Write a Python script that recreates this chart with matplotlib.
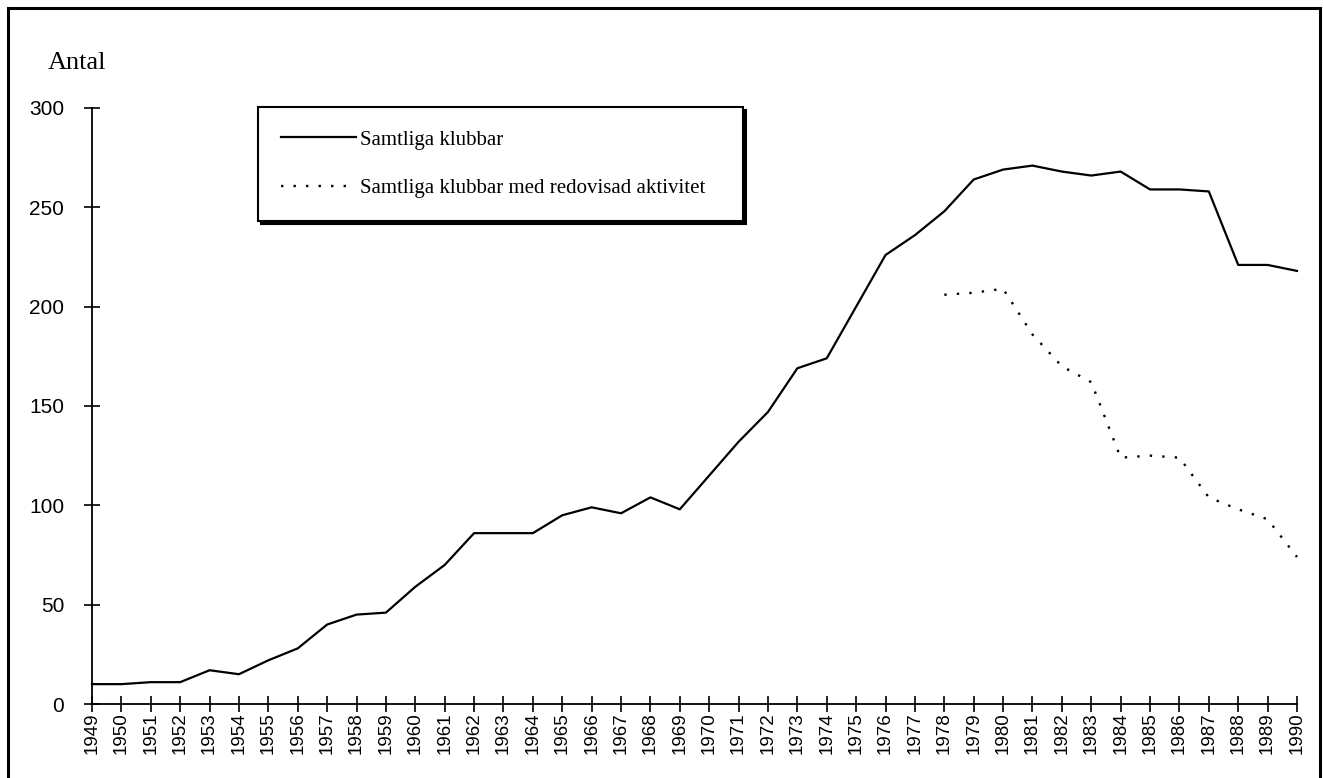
import matplotlib.pyplot as plt
from matplotlib.patches import Rectangle

years = list(range(1949, 1991))
samtliga = [10, 10, 11, 11, 17, 15, 22, 28, 40, 45, 46, 59, 70, 86, 86, 86,
            95, 99, 96, 104, 98, 115, 132, 147, 169, 174, 200, 226, 236, 248,
            264, 269, 271, 268, 266, 268, 259, 259, 258, 221, 221, 218]
aktiv_years = list(range(1978, 1991))
aktiv = [206, 207, 209, 186, 170, 162, 124, 125, 124, 104, 98, 93, 74]

yticks = [0, 50, 100, 150, 200, 250, 300]

serif = ['Liberation Serif', 'DejaVu Serif']
sans = ['Liberation Sans', 'DejaVu Sans']

fig = plt.figure(figsize=(13.24, 7.78), dpi=100)
ax = fig.add_axes([0.0695, 0.0951, 0.9101, 0.7661])

ax.plot(years, samtliga, color='black', lw=1.6, clip_on=False,
        label='Samtliga klubbar')
ax.plot(aktiv_years, aktiv, color='black', lw=1.7, linestyle=(0, (1, 4.3)),
        clip_on=False, label='Samtliga klubbar med redovisad aktivitet')

ax.set_xlim(1949, 1990)
ax.set_ylim(0, 300)
ax.set_xticks(years)
ax.set_xticklabels([str(y) for y in years], rotation=90, family=sans, fontsize=13.5)
ax.set_yticks(yticks)
ax.set_yticklabels([str(v) for v in yticks], family=sans, fontsize=15)

for s in ['top', 'right']:
    ax.spines[s].set_visible(False)
for s in ['left', 'bottom']:
    ax.spines[s].set_linewidth(1.3)
ax.tick_params(axis='both', direction='inout', length=12, width=1.2)
ax.tick_params(axis='x', pad=0)
ax.tick_params(axis='y', pad=14)

fig.text(48 / 1324, 1 - 69 / 778, 'Antal', family=serif, fontsize=19, va='baseline')

leg = ax.legend(loc='upper left', bbox_to_anchor=(258 / 1324, 1 - 107 / 778, 485 / 1324, 0),
                bbox_transform=fig.transFigure, mode='expand', fancybox=False,
                prop={'family': serif, 'size': 15}, handlelength=3.6,
                handletextpad=0.2, labelspacing=1.4, borderpad=1.1,
                borderaxespad=0, shadow={'color': 'black', 'alpha': 1})
leg.get_frame().set_edgecolor('black')
leg.get_frame().set_linewidth(1.5)

fig.patches.append(Rectangle((0.006, -0.0097), 0.991, 1.0, transform=fig.transFigure,
                             fill=False, edgecolor='black', lw=2.2))

fig.savefig('out.png', dpi=100)
